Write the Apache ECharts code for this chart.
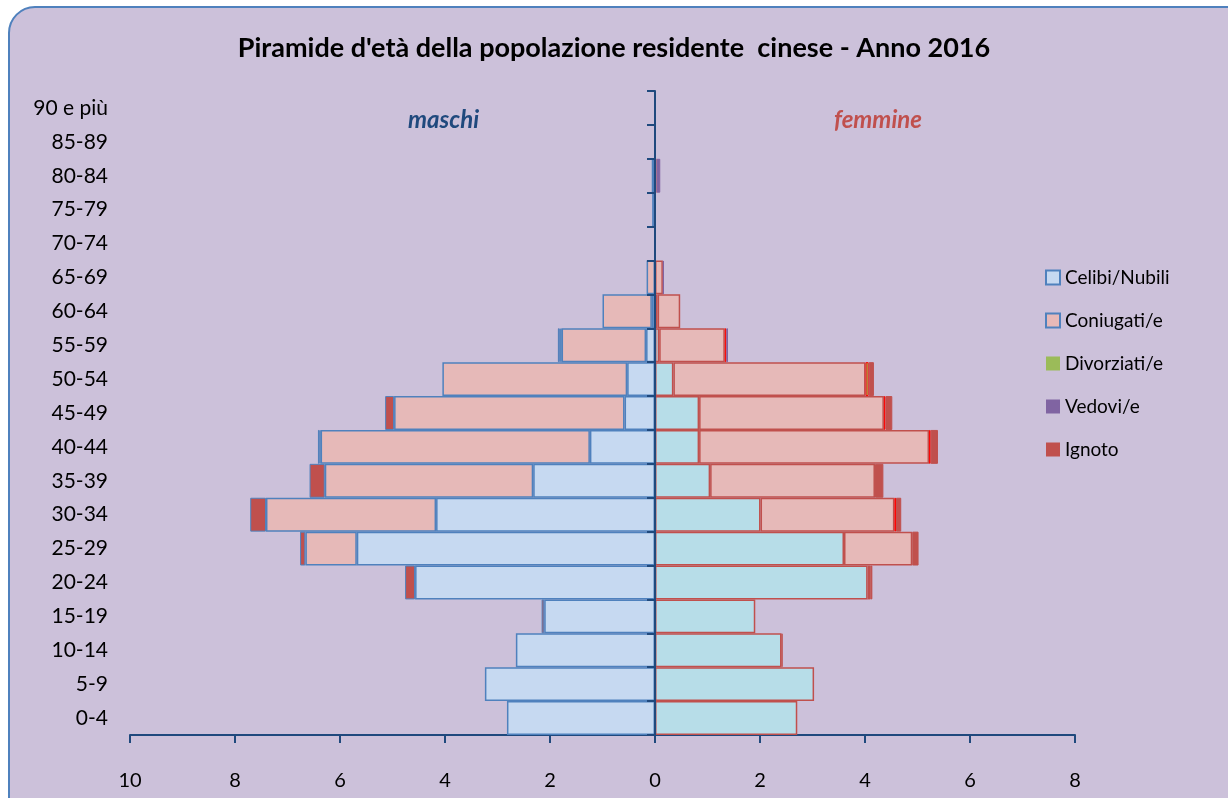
<!DOCTYPE html>
<html>
<head>
<meta charset="utf-8">
<script src="https://cdn.jsdelivr.net/npm/echarts@6/dist/echarts.min.js"></script>
<style>
  html, body { margin: 0; padding: 0; background: #fff; }
  #chart { width: 1228px; height: 798px; }
</style>
</head>
<body>
<div id="chart"></div>
<script>
// classi d'età, dal basso verso l'alto
var ageClasses = ['0-4', '5-9', '10-14', '15-19', '20-24', '25-29', '30-34', '35-39', '40-44',
  '45-49', '50-54', '55-59', '60-64', '65-69', '70-74', '75-79', '80-84', '85-89', '90 e più'];

// maschi (%)
var maleCelibi     = [2.82, 3.24, 2.65, 2.11, 4.57, 5.68, 4.17, 2.32, 1.24, 0.58, 0.53, 0.17, 0.06, 0, 0, 0.01, 0.02, 0, 0];
var maleConiugati  = [0, 0, 0, 0, 0, 0.98, 3.24, 3.97, 5.13, 4.39, 3.52, 1.61, 0.94, 0.16, 0, 0.02, 0.02, 0, 0];
var maleDivorziati = [0, 0, 0, 0, 0, 0, 0, 0, 0.02, 0, 0, 0.02, 0, 0, 0, 0, 0, 0, 0];
var maleVedovi     = [0, 0, 0, 0, 0, 0, 0, 0, 0, 0, 0, 0.02, 0, 0, 0, 0.02, 0.02, 0, 0];
var maleIgnoto     = [0, 0, 0, 0.05, 0.19, 0.10, 0.30, 0.29, 0.03, 0.17, 0, 0.03, 0, 0, 0, 0, 0, 0, 0];

// femmine (%)
var femNubili      = [2.71, 3.03, 2.41, 1.91, 4.05, 3.60, 2.01, 1.05, 0.84, 0.84, 0.35, 0.08, 0.05, 0, 0, 0, 0, 0, 0];
var femConiugate   = [0, 0, 0, 0, 0.05, 1.30, 2.55, 3.14, 4.38, 3.52, 3.66, 1.25, 0.43, 0.15, 0, 0, 0.03, 0, 0];
var femDivorziate  = [0, 0, 0, 0, 0, 0, 0.03, 0, 0.03, 0.03, 0.06, 0.03, 0, 0, 0, 0, 0, 0, 0];
var femVedove      = [0, 0, 0, 0, 0, 0, 0, 0, 0, 0, 0, 0.03, 0, 0.02, 0, 0, 0.07, 0, 0];
var femIgnoto      = [0, 0, 0.02, 0, 0.04, 0.12, 0.10, 0.16, 0.14, 0.13, 0.10, 0, 0, 0, 0, 0, 0, 0, 0];

var xTicks = [-10, 8, 2]; // min, max, passo

var FONT = 'Lato';
var BLUE = '#4f81bd', DARK = '#1f497d', RED = '#c0504d';

function vals(arr, sign) {
  return arr.map(function (v) { return v ? sign * v : '-'; });
}

function bar(name, data, sign, fill, border, bw) {
  return {
    name: name,
    type: 'bar',
    stack: 'tot',
    barCategoryGap: '0%',
    data: vals(data, sign),
    itemStyle: { color: fill, borderColor: border, borderWidth: bw },
    emphasis: { disabled: true }
  };
}

var chart = echarts.init(document.getElementById('chart'));

var option = {
  animation: false,
  textStyle: { fontFamily: FONT },
  graphic: [
    { type: 'rect', z: -10, silent: true,
      shape: { x: 9, y: 7, width: 1260, height: 830, r: 26 },
      style: { fill: '#ccc1da', stroke: BLUE, lineWidth: 2 } },
    { type: 'text', left: 408, top: 108,
      style: { text: 'maschi', fill: DARK, font: 'italic bold 24px ' + FONT } },
    { type: 'text', left: 834, top: 108,
      style: { text: 'femmine', fill: RED, font: 'italic bold 24px ' + FONT } }
  ],
  title: {
    text: "Piramide d'età della popolazione residente  cinese - Anno 2016",
    left: 'center', top: 30,
    textStyle: { fontFamily: FONT, fontWeight: 'bold', fontSize: 27, color: '#000' }
  },
  legend: {
    orient: 'vertical',
    left: 1040, top: 263,
    icon: 'rect',
    itemWidth: 14, itemHeight: 14,
    itemGap: 24,
    textStyle: { fontFamily: FONT, fontSize: 19, color: '#000' },
    data: [
      'Celibi/Nubili',
      'Coniugati/e',
      { name: 'Divorziati/e', itemStyle: { borderWidth: 0 } },
      { name: 'Vedovi/e', itemStyle: { borderWidth: 0 } },
      { name: 'Ignoto', itemStyle: { borderWidth: 0 } }
    ]
  },
  grid: { left: 130, right: 153, top: 91, bottom: 63, containLabel: false },
  xAxis: {
    type: 'value',
    min: xTicks[0], max: xTicks[1], interval: xTicks[2],
    splitLine: { show: false },
    axisLine: { show: true, lineStyle: { color: DARK, width: 2 } },
    axisTick: { show: true, length: 8, lineStyle: { color: DARK, width: 2 } },
    axisLabel: {
      margin: 36, fontSize: 20, color: '#000', fontFamily: FONT,
      formatter: function (v) { return Math.abs(v); }
    }
  },
  yAxis: [
    {
      type: 'category',
      data: ageClasses,
      axisLine: { onZero: true, lineStyle: { color: DARK, width: 2 } },
      axisTick: { show: true, length: 8, lineStyle: { color: DARK, width: 2 } },
      axisLabel: { show: false },
      z: 10
    },
    {
      type: 'category',
      data: ageClasses,
      position: 'left',
      axisLine: { show: false, onZero: false },
      axisTick: { show: false },
      axisLabel: { margin: 22, fontSize: 21, color: '#000', fontFamily: FONT }
    }
  ],
  series: [
    bar('Celibi/Nubili', maleCelibi, -1, '#c6d9f1', BLUE, 1.5),
    bar('Coniugati/e', maleConiugati, -1, '#e6b9b8', BLUE, 1.5),
    bar('Divorziati/e', maleDivorziati, -1, '#9bbb59', BLUE, 1),
    bar('Vedovi/e', maleVedovi, -1, '#8064a2', BLUE, 1),
    bar('Ignoto', maleIgnoto, -1, RED, BLUE, 1),
    bar('Celibi/Nubili', femNubili, 1, '#b7dde8', RED, 1.5),
    bar('Coniugati/e', femConiugate, 1, '#e6b9b8', RED, 1.5),
    bar('Divorziati/e', femDivorziate, 1, '#9bbb59', '#ff0000', 1),
    bar('Vedovi/e', femVedove, 1, '#8064a2', '#8064a2', 1),
    bar('Ignoto', femIgnoto, 1, RED, RED, 1)
  ]
};

chart.setOption(option);
</script>
</body>
</html>
